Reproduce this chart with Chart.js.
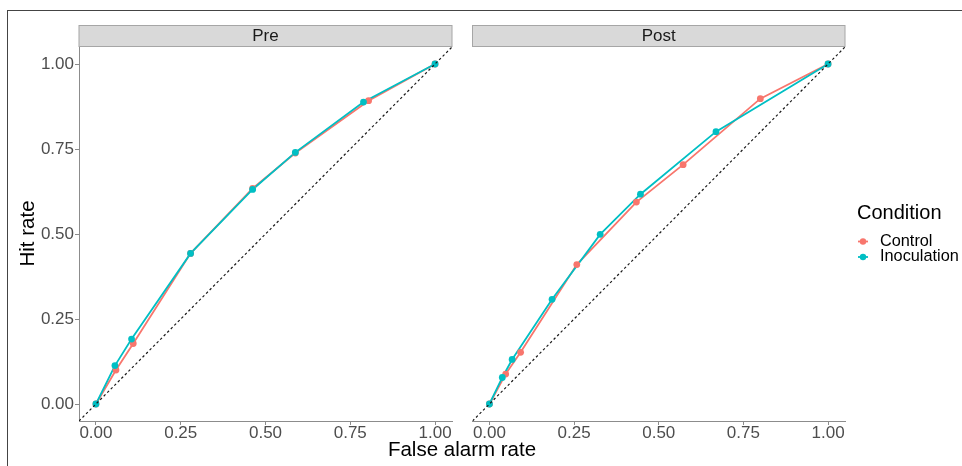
<!DOCTYPE html>
<html><head><meta charset="utf-8">
<script src="https://cdn.jsdelivr.net/npm/chart.js@4.4.1/dist/chart.umd.min.js"></script>
<style>
html,body{margin:0;padding:0;background:#fff;width:962px;height:466px;overflow:hidden;}
#frame{position:absolute;left:7px;top:10px;width:1000px;height:1000px;border-left:1.5px solid #444;border-top:1.5px solid #444;}
canvas{position:absolute;left:0;top:0;}
</style></head><body>
<div id="frame"></div>
<canvas id="pre" width="962" height="466"></canvas>
<canvas id="post" width="962" height="466"></canvas>
<script>
// ---- data ----
const panels = ['Pre', 'Post'];
const conditions = ['Control', 'Inoculation'];
const tickValues = [0, 0.25, 0.5, 0.75, 1];
const tickLabels = ['0.00', '0.25', '0.50', '0.75', '1.00'];

const preControlFA  = [0, 0.059, 0.110, 0.279, 0.462, 0.588, 0.804, 1];
const preControlHit = [0, 0.100, 0.178, 0.443, 0.634, 0.738, 0.892, 1];
const preInocFA     = [0, 0.056, 0.105, 0.279, 0.462, 0.588, 0.789, 1];
const preInocHit    = [0, 0.113, 0.191, 0.443, 0.631, 0.740, 0.888, 1];

const postControlFA  = [0, 0.048, 0.092, 0.258, 0.434, 0.572, 0.800, 1];
const postControlHit = [0, 0.088, 0.152, 0.410, 0.594, 0.704, 0.898, 1];
const postInocFA     = [0, 0.038, 0.067, 0.185, 0.327, 0.446, 0.669, 1];
const postInocHit    = [0, 0.078, 0.131, 0.308, 0.499, 0.617, 0.801, 1];

const diagonal = [-0.05, 1.05];

// ---- styles ----
const RED = '#F8766D', TEAL = '#00BFC4';
const FONT = '"Liberation Sans", Arial, Helvetica, sans-serif';
const AXIS = '#8C8C8C';
const TICKTXT = '#4D4D4D';

function pts(xs, ys) { return xs.map((x, i) => ({x: x, y: ys[i]})); }

const stripPlugin = {
  id: 'strip',
  afterDraw(chart, args, opts) {
    const {ctx, chartArea} = chart;
    ctx.save();
    const top = 25.5, bottom = 46.5;
    ctx.fillStyle = '#D9D9D9';
    ctx.fillRect(chartArea.left, top, chartArea.right - chartArea.left, bottom - top);
    ctx.strokeStyle = '#A6A6A6';
    ctx.lineWidth = 1;
    ctx.strokeRect(chartArea.left, top, chartArea.right - chartArea.left, bottom - top);
    ctx.fillStyle = '#1A1A1A';
    ctx.font = '17px ' + FONT;
    ctx.textAlign = 'center';
    ctx.textBaseline = 'middle';
    ctx.fillText(opts.label, (chartArea.left + chartArea.right) / 2, 36.5);
    ctx.restore();
  }
};

const decoPlugin = {
  id: 'deco',
  afterDraw(chart, args, opts) {
    if (!opts.on) return;
    const ctx = chart.ctx;
    ctx.save();
    ctx.fillStyle = '#000';
    ctx.textBaseline = 'middle';
    // x title
    ctx.font = '20.5px ' + FONT;
    ctx.textAlign = 'center';
    ctx.fillText('False alarm rate', 462, 450);
    // y title
    ctx.save();
    ctx.translate(28, 233.5);
    ctx.rotate(-Math.PI / 2);
    ctx.fillText('Hit rate', 0, 0);
    ctx.restore();
    // legend
    ctx.textAlign = 'left';
    ctx.font = '20px ' + FONT;
    ctx.fillText('Condition', 857, 213);
    const cols = [RED, TEAL];
    const ys = [241.5, 257];
    ctx.font = '16.3px ' + FONT;
    conditions.forEach((c, i) => {
      ctx.strokeStyle = cols[i];
      ctx.lineWidth = 1.8;
      ctx.beginPath();
      ctx.moveTo(858, ys[i]); ctx.lineTo(868, ys[i]); ctx.stroke();
      ctx.fillStyle = cols[i];
      ctx.beginPath();
      ctx.arc(863, ys[i], 3.2, 0, Math.PI * 2); ctx.fill();
      ctx.fillStyle = '#000';
      ctx.fillText(c, 880, ys[i]);
    });
    ctx.restore();
  }
};

function makePanel(id, label, cFA, cHit, iFA, iHit, isFirst) {
  const datasets = [
    {label: 'diag', data: pts(diagonal, diagonal), showLine: true, borderColor: '#1A1A1A', borderWidth: 1.2,
     borderDash: [2.5, 2.5], pointRadius: 0, order: 0},
    {label: conditions[1] + ' pts', data: pts(iFA, iHit), showLine: false, pointRadius: 3.4,
     pointBackgroundColor: TEAL, pointBorderWidth: 0, order: 1},
    {label: conditions[0] + ' pts', data: pts(cFA, cHit), showLine: false, pointRadius: 3.4,
     pointBackgroundColor: RED, pointBorderWidth: 0, order: 2},
    {label: conditions[1], data: pts(iFA, iHit), showLine: true, borderColor: TEAL, borderWidth: 1.8,
     pointRadius: 0, order: 3},
    {label: conditions[0], data: pts(cFA, cHit), showLine: true, borderColor: RED, borderWidth: 1.8,
     pointRadius: 0, order: 4}
  ];
  const axisCommon = {
    type: 'linear', min: -0.05, max: 1.05,
    afterBuildTicks: s => { s.ticks = tickValues.map(v => ({value: v})); },
    ticks: {callback: (v, i) => tickLabels[i], color: TICKTXT, font: {size: 17, family: FONT},
            autoSkip: false, maxRotation: 0, padding: -2},
    grid: {display: true, drawOnChartArea: false, drawTicks: true, tickLength: 4, color: AXIS, lineWidth: 1},
    border: {display: true, color: AXIS, width: 1}
  };
  const x = Object.assign({}, axisCommon, {afterFit: s => { s.height = 45; }});
  const y = Object.assign({}, axisCommon, {display: isFirst, afterFit: s => { s.width = isFirst ? 79 : 0; }});
  y.ticks = Object.assign({}, axisCommon.ticks, {padding: 1});
  return new Chart(document.getElementById(id), {
    type: 'scatter',
    data: {datasets: datasets},
    options: {
      responsive: false, animation: false, devicePixelRatio: 1,
      layout: {padding: isFirst ? {left: 0, top: 47, right: 962 - 452, bottom: 0}
                                : {left: 472.5, top: 47, right: 962 - 845, bottom: 0}},
      scales: {x: x, y: y},
      plugins: {legend: {display: false}, tooltip: {enabled: false},
                strip: {label: label}, deco: {on: !isFirst}}
    },
    plugins: [stripPlugin, decoPlugin]
  });
}

makePanel('pre', panels[0], preControlFA, preControlHit, preInocFA, preInocHit, true);
makePanel('post', panels[1], postControlFA, postControlHit, postInocFA, postInocHit, false);
</script>
</body></html>
